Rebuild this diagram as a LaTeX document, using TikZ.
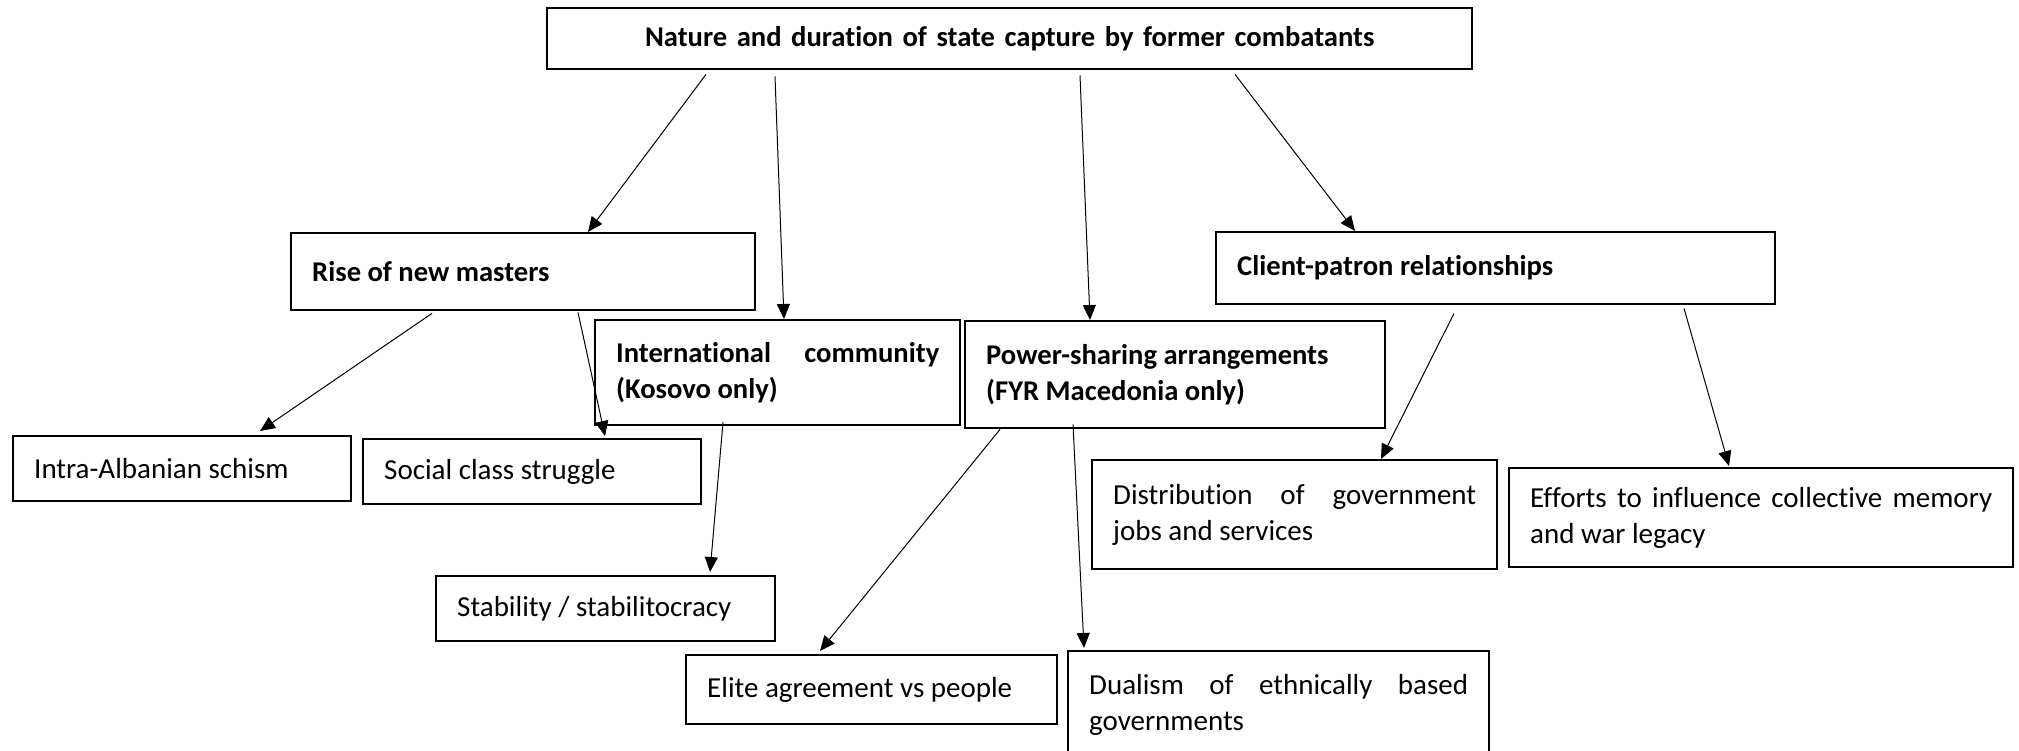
\documentclass[tikz,border=0pt]{standalone}
\usepackage{fontspec}
\setmainfont{Carlito}[Ligatures=NoCommon]
\usetikzlibrary{arrows.meta}
\hyphenpenalty=10000
\exhyphenpenalty=10000
\tikzset{
  box/.style={draw, line width=2.4pt, anchor=north west, inner xsep=21pt, inner ysep=0pt,
              align=justify, font=\fontsize{29}{36}\selectfont},
  hbox/.style={box, font=\bfseries\fontsize{28.6}{36}\selectfont},
  ar/.style={-{Triangle[length=15pt,width=13pt]}, line width=1pt},
}

\begin{document}
\begin{tikzpicture}[x=1pt, y=-1pt]
  \useasboundingbox (0,0) rectangle (2019,751);
  % headings
  \node[hbox, align=center, minimum width=925pt, minimum height=61pt, text width=883pt] (top) at (546,7)
    {Nature and duration of state capture by former combatants};
  \node[hbox, minimum width=464pt, minimum height=77pt, text width=422pt] (rise) at (290,232) {Rise of new masters};
  \node[hbox, minimum width=365pt, minimum height=105pt, text width=323pt] (intl) at (594,319)
    {International community (Kosovo only)};
  \node[hbox, minimum width=420pt, minimum height=107pt, text width=378pt] (power) at (964,320)
    {Power-sharing arrangements\\(FYR Macedonia only)};
  \node[hbox, minimum width=559pt, minimum height=72pt, text width=517pt] (client) at (1215,231)
    {Client-patron relationships};
  % outcomes
  \node[box, minimum width=338pt, minimum height=65pt, text width=296pt] (intra) at (12,435) {Intra-Albanian schism};
  \node[box, minimum width=338pt, minimum height=65pt, text width=296pt] (social) at (362,438) {Social class struggle};
  \node[box, minimum width=339pt, minimum height=65pt, text width=297pt] (stab) at (435,575) {Stability / stabilitocracy};
  \node[box, minimum width=371pt, minimum height=69pt, text width=329pt] (elite) at (685,654) {Elite agreement vs people};
  \node[box, minimum width=405pt, minimum height=109pt, text width=363pt] (distr) at (1091,459)
    {Distribution of government jobs and services};
  \node[box, minimum width=504pt, minimum height=99pt, text width=462pt] (eff) at (1508,467)
    {Efforts to influence collective memory and war legacy};
  \node[box, minimum width=421pt, minimum height=107pt, text width=379pt] (dual) at (1067,650)
    {Dualism of ethnically based governments};
  % arrows
  \draw[ar] ([xshift=160pt,yshift=-4pt]top.south west) -- ([xshift=298pt]rise.north west);
  \draw[ar] ([xshift=229pt,yshift=-6pt]top.south west) -- ([xshift=190pt]intl.north west);
  \draw[ar] ([xshift=534pt,yshift=-5pt]top.south west) -- ([xshift=126pt]power.north west);
  \draw[ar] ([xshift=689pt,yshift=-4pt]top.south west) -- ([xshift=140pt]client.north west);
  \draw[ar] ([xshift=142pt,yshift=-2pt]rise.south west) -- ([xshift=248pt,yshift=4pt]intra.north west);
  \draw[ar] ([xshift=288pt,yshift=-1pt]rise.south west) -- ([xshift=243pt,yshift=2pt]social.north west);
  \draw[ar] ([xshift=129pt,yshift=4pt]intl.south west) -- ([xshift=275pt,yshift=3pt]stab.north west);
  \draw[ar] ([xshift=36pt]power.south west) -- ([xshift=135pt,yshift=3pt]elite.north west);
  \draw[ar] ([xshift=109pt,yshift=5pt]power.south west) -- ([xshift=17pt,yshift=2pt]dual.north west);
  \draw[ar] ([xshift=239pt,yshift=-8pt]client.south west) -- ([xshift=290pt]distr.north west);
  \draw[ar] ([xshift=469pt,yshift=-3pt]client.south west) -- ([xshift=221pt,yshift=1pt]eff.north west);
\end{tikzpicture}
\end{document}
